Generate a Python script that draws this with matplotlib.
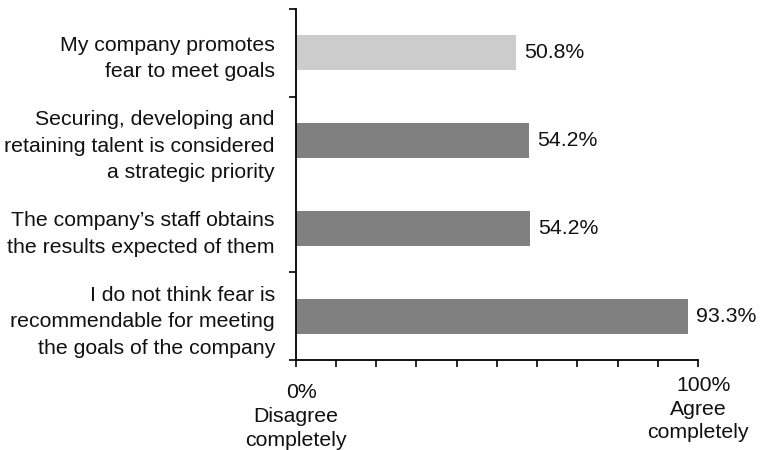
import matplotlib
matplotlib.use("Agg")
import matplotlib.pyplot as plt
from matplotlib.transforms import blended_transform_factory, offset_copy

plt.rcParams['font.family'] = ['Liberation Sans', 'DejaVu Sans']

categories = [
    "My company promotes\nfear to meet goals",
    "Securing, developing and\nretaining talent is considered\na strategic priority",
    "The company\u2019s staff obtains\nthe results expected of them",
    "I do not think fear is\nrecommendable for meeting\nthe goals of the company",
]
# bar lengths as drawn on the 0-100% scale, and the printed value labels
bar_lengths = [54.8, 58.0, 58.3, 97.5]
value_labels = ["50.8%", "54.2%", "54.2%", "93.3%"]
bar_colors = ["#cccccc", "#808080", "#808080", "#808080"]

FS = 15.3
LS = 1.5
TXT = '#111111'

fig = plt.figure(figsize=(7.62, 4.5), dpi=100)
ax = fig.add_axes([295.7 / 762, 1 - 360 / 450, (698 - 295.7) / 762, (360 - 9) / 450])

n = len(categories)
ypos = [n - 1 - i for i in range(n)]
ax.barh(ypos, bar_lengths, height=0.4, color=bar_colors, edgecolor='none', zorder=2)

for y, v, lab in zip(ypos, bar_lengths, value_labels):
    ax.annotate(lab, (v, y), xytext=(6, 0), textcoords='offset points',
                ha='left', va='center', fontsize=FS, color=TXT)

ax.set_xlim(0, 100)
ax.set_ylim(-0.5, n - 0.5)

ax.set_yticks(ypos)
ax.set_yticklabels(categories, fontsize=FS, linespacing=LS, color=TXT)
ax.tick_params(axis='y', which='major', length=0, pad=15)
ax.set_yticks([3.5, 2.5, 0.5, -0.5], minor=True)
ax.tick_params(axis='y', which='minor', length=5, width=1.2, direction='out')

ax.set_xticks(range(0, 101, 10))
ax.set_xticklabels([])
ax.tick_params(axis='x', which='major', length=5, width=1.2, direction='out')

for s in ['top', 'right']:
    ax.spines[s].set_visible(False)
for s in ['left', 'bottom']:
    ax.spines[s].set_linewidth(1.3)

tr = blended_transform_factory(ax.transData, ax.transAxes)
tr_pct = offset_copy(tr, fig=fig, x=6, y=0, units='dots')
ax.text(0, -0.094, "0%", transform=tr_pct, ha='center', va='center', fontsize=FS, color=TXT)
ax.text(0, -0.135, "Disagree\ncompletely", transform=tr, ha='center', va='top', fontsize=FS,
        linespacing=1.32, color=TXT)
ax.text(100, -0.073, "100%", transform=tr_pct, ha='center', va='center', fontsize=FS, color=TXT)
ax.text(100, -0.113, "Agree\ncompletely", transform=tr, ha='center', va='top', fontsize=FS,
        linespacing=1.3, color=TXT)

fig.savefig("out.png", dpi=100)
